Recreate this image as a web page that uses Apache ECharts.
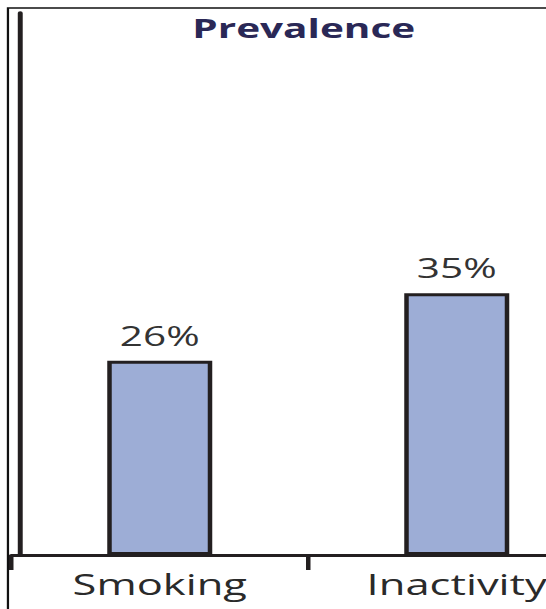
<!DOCTYPE html>
<html>
<head>
<meta charset="utf-8">
<script src="https://cdn.jsdelivr.net/npm/echarts@6/dist/echarts.min.js"></script>
<style>
  html, body { margin: 0; padding: 0; background: #ffffff; overflow: hidden; }
  #wrap { width: 546px; height: 609px; overflow: hidden; position: relative; }
  #chart { width: 420px; height: 609px; transform: scaleX(1.5); transform-origin: 0 0; }
</style>
</head>
<body>
<div id="wrap"><div id="chart"></div></div>
<script>
var titleText = 'Prevalence';
var categories = ['Smoking', 'Inactivity'];
var prevalence = [26, 35];
var yMax = 72.5;

var chart = echarts.init(document.getElementById('chart'), null, { renderer: 'svg' });
chart.setOption({
  animation: false,
  backgroundColor: '#ffffff',
  title: {
    text: titleText,
    left: 197.5,
    textAlign: 'center',
    top: 9,
    textStyle: { fontFamily: 'Open Sans', fontWeight: 'bold', fontSize: 27, color: '#2a2856' }
  },
  graphic: [{
    type: 'rect',
    shape: { x: 5.3, y: 8, width: 420, height: 700 },
    style: { fill: 'none', stroke: '#111111', lineWidth: 1.5 },
    silent: true
  }],
  grid: { left: 7.5, top: 13, width: 396, bottom: 54, containLabel: false },
  xAxis: {
    type: 'category',
    data: categories,
    boundaryGap: true,
    axisLine: { show: true, lineStyle: { color: '#231f20', width: 3 } },
    axisTick: { show: true, length: 15, lineStyle: { color: '#231f20', width: 3 } },
    axisLabel: { margin: 14, fontFamily: 'Open Sans', fontSize: 29, color: '#2a2a2a' }
  },
  yAxis: {
    type: 'value',
    min: 0,
    max: yMax,
    offset: -5.5,
    axisLine: { show: true, lineStyle: { color: '#231f20', width: 3.3 } },
    axisTick: { show: false },
    axisLabel: { show: false },
    splitLine: { show: false }
  },
  series: [{
    type: 'bar',
    data: prevalence,
    barWidth: 70,
    itemStyle: { color: '#9dadd6', borderColor: '#231f20', borderWidth: 3 },
    label: {
      show: true,
      position: 'top',
      distance: 12,
      formatter: function (p) { return p.value + '%'; },
      fontFamily: 'Open Sans',
      fontSize: 27,
      color: '#333333'
    }
  }]
});
</script>
</body>
</html>
